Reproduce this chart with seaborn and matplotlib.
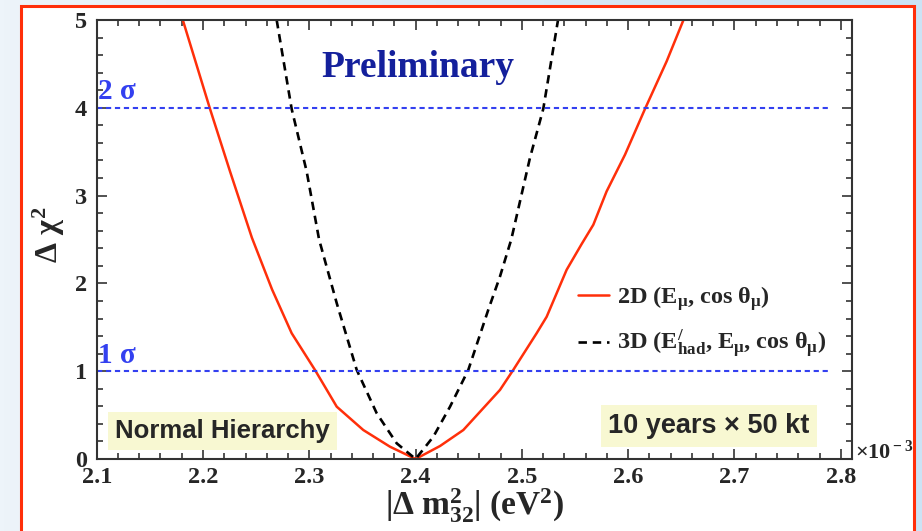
import numpy as np
import pandas as pd
import matplotlib.pyplot as plt
import seaborn as sns
from matplotlib.patches import Rectangle
from matplotlib.ticker import MultipleLocator

# values
dm2_2d = [2.181, 2.2066, 2.2254, 2.246, 2.265, 2.2834, 2.3053, 2.3258, 2.3508, 2.3759, 2.400,
          2.423, 2.4449, 2.4794, 2.4919, 2.5139, 2.5233, 2.5421, 2.5562, 2.5672, 2.5797,
          2.597, 2.6158, 2.6362, 2.652]
chi2_2d = [5.0, 3.987, 3.276, 2.52, 1.93, 1.433, 1.015, 0.596, 0.33, 0.14, 0.0,
           0.148, 0.33, 0.787, 1.015, 1.433, 1.62, 2.155, 2.448, 2.668, 3.048,
           3.466, 3.987, 4.53, 5.0]

dm2_3d = [2.2693, 2.2834, 2.2975, 2.3092, 2.3258, 2.3446, 2.3634, 2.3822, 2.400,
          2.4167, 2.4324, 2.4496, 2.4684, 2.4794, 2.490, 2.5076, 2.5201, 2.5333, 2.534]
chi2_3d = [5.0, 3.987, 3.276, 2.50, 1.775, 1.015, 0.521, 0.179, 0.0,
           0.254, 0.596, 1.015, 1.70, 2.079, 2.50, 3.43, 3.987, 4.95, 5.0]

sigma_levels = [1, 4]
sigma_labels = ["1 σ", "2 σ"]
x_ticks = [2.1, 2.2, 2.3, 2.4, 2.5, 2.6, 2.7, 2.8]
y_ticks = [0, 1, 2, 3, 4, 5]

label_2d = r"2D (E$_{\mu}$, cos $\theta_{\mu}$)"
label_3d = r"3D (E$^{/}_{\rm had}$, E$_{\mu}$, cos $\theta_{\mu}$)"

sns.set_style("ticks")
plt.rcParams["font.family"] = ["Liberation Serif", "DejaVu Serif"]
plt.rcParams["font.weight"] = "bold"
plt.rcParams["mathtext.fontset"] = "custom"
plt.rcParams["mathtext.rm"] = "Liberation Serif:bold"
plt.rcParams["mathtext.it"] = "Liberation Serif:bold"
plt.rcParams["mathtext.bf"] = "Liberation Serif:bold"

red = "#ff2f0a"
blue = "#3340f0"

fig = plt.figure(figsize=(9.22, 5.31), dpi=100)

# light blue gradient page + red frame
bg = fig.add_axes([0, 0, 1, 1], zorder=-3)
grad = np.linspace(0, 1, 256).reshape(1, -1)
bg.imshow(grad, aspect="auto", cmap=sns.blend_palette(["#edf4fa", "#cbe3f5"], as_cmap=True),
          extent=[0, 1, 0, 1])
bg.set_axis_off()
fig.patches.append(Rectangle((0.0228, -0.02), 0.9685, 1.0087, transform=fig.transFigure,
                             fc="white", ec=red, lw=2.2, zorder=-2))

ax = fig.add_axes([0.1049, 0.1356, 0.8191, 0.8267])
ax.set_facecolor("white")

sns.lineplot(x=dm2_2d, y=chi2_2d, ax=ax, color=red, lw=1.8, sort=False,
             estimator=None, label=label_2d)
sns.lineplot(x=dm2_3d, y=chi2_3d, ax=ax, color="black", lw=1.9, sort=False,
             estimator=None, linestyle=(0, (3.2, 2.2)), label=label_3d)

for lev, lab in zip(sigma_levels, sigma_labels):
    ax.hlines(lev, 2.1, 2.79, color=blue, lw=1.5, linestyles=(0, (2.5, 1.8)))
    ax.text(2.1015, lev + 0.03, lab, color=blue, fontsize=21, fontweight="bold",
            ha="left", va="bottom")

ax.text(2.402, 4.46, "Preliminary", color="#14209c", fontsize=27, fontweight="bold",
        ha="center", va="center")

box = dict(boxstyle="square,pad=0.28", fc="#f8f8d2", ec="none")
ax.text(2.218, 0.32, "Normal Hierarchy", family="Liberation Sans", fontsize=18.5,
        fontweight="bold", ha="center", va="center", bbox=box)
ax.text(2.676, 0.376, "10 years × 50 kt", family="Liberation Sans", fontsize=19.5,
        fontweight="bold", ha="center", va="center", bbox=box)

ax.text(1.004, 0.016, r"$\times$10$^{\rm -3}$", transform=ax.transAxes, fontsize=16,
        fontweight="bold", ha="left", va="center")

ax.set_xlim(2.1, 2.8105)
ax.set_ylim(0, 5)
ax.set_xticks(x_ticks)
ax.set_yticks(y_ticks)
ax.set_xticklabels([f"{v:.1f}" for v in x_ticks])
ax.set_yticklabels([str(v) for v in y_ticks])
ax.xaxis.set_minor_locator(MultipleLocator(0.02))
ax.yaxis.set_minor_locator(MultipleLocator(0.2))
ax.tick_params(which="both", direction="in", top=True, right=True, color="#333333",
               width=1.2, labelsize=17.5)
ax.tick_params(which="major", length=7)
ax.tick_params(which="minor", length=4)
ax.tick_params(axis="x", pad=6)
ax.tick_params(axis="y", pad=7)
for sp in ax.spines.values():
    sp.set_linewidth(1.5)
    sp.set_color("#333333")

ax.set_xlabel(r"|$\Delta$ m$^{2}_{32}$| (eV$^{2}$)", fontsize=24, fontweight="bold")
ax.set_ylabel(r"$\Delta$ $\chi^{2}$", fontsize=23, fontweight="bold")
ax.xaxis.set_label_coords(0.5, -0.062)
ax.yaxis.set_label_coords(-0.04, 0.51)

ax.legend(loc="upper left", bbox_to_anchor=(0.621, 0.427), frameon=False,
          fontsize=17.5, handlelength=1.3, handletextpad=0.3, labelspacing=0.65,
          borderpad=0)

fig.savefig("out.png", dpi=100)
